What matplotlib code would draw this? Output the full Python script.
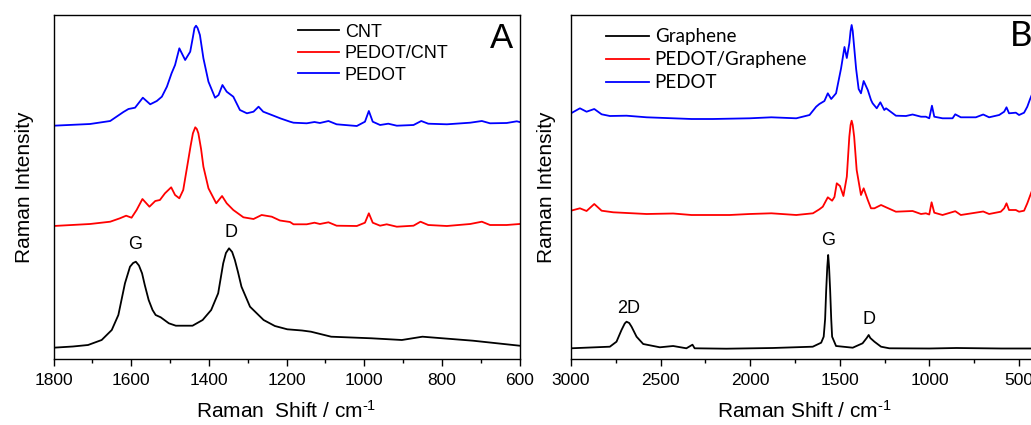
import matplotlib
matplotlib.use("Agg")
import matplotlib.pyplot as plt
from matplotlib.ticker import MultipleLocator

plt.rcParams["font.family"] = ["Liberation Sans", "DejaVu Sans"]
plt.rcParams["mathtext.fontset"] = "custom"
plt.rcParams["mathtext.rm"] = "Liberation Sans"
plt.rcParams["mathtext.it"] = "Liberation Sans:italic"

# ---- Panel A: CNT spectra (x = Raman shift, y = intensity) ----
cnt_x = [1800, 1750, 1711, 1676, 1650, 1633, 1616, 1603, 1595, 1588, 1580, 1572,
         1565, 1555, 1545, 1537, 1524, 1503, 1485, 1442, 1416, 1394, 1376, 1363,
         1356, 1348, 1340, 1333, 1325, 1316, 1294, 1259, 1230, 1198, 1160, 1137,
         1085, 981, 903, 850, 720, 600]
cnt_y = [11.3, 12.5, 14, 19, 29, 44, 75.7, 92.3, 96, 97.3, 93.5, 85.7,
         74, 59, 49, 44, 41.7, 35.7, 33.3, 33.3, 39, 49, 65.7, 95.7,
         106, 110.7, 107, 99, 87, 72.3, 52.3, 39, 33, 29.7, 28.5, 27.3,
         22.3, 20.7, 19, 22.3, 18.3, 13.3]

pcnt_x = [1800, 1706, 1654, 1629, 1613, 1599, 1586, 1571, 1553, 1538, 1526, 1513,
          1497, 1487, 1476, 1466, 1453, 1447, 1441, 1435, 1431, 1427, 1420, 1414,
          1401, 1381, 1366, 1354, 1337, 1311, 1285, 1264, 1238, 1217, 1191, 1182,
          1148, 1128, 1114, 1092, 1071, 1019, 998, 988, 978, 959, 942, 916,
          873, 855, 835, 787, 727, 697, 676, 633, 600]
pcnt_y = [133, 135, 137.3, 140.7, 143.3, 141.3, 149, 160, 152.3, 158, 159, 165.7,
          171.7, 164, 160.7, 169, 199, 213, 225.7, 231.7, 230, 225.7, 210, 192.3,
          170.7, 155.7, 163, 155.7, 149, 141.7, 140, 144, 142.3, 138.5, 137, 134.7,
          134.7, 136.3, 135, 136.7, 133.3, 133, 136.3, 145.7, 136.3, 133.3, 134.7, 132.3,
          133.3, 137.3, 134, 133, 135, 137.3, 134, 134, 135]

pedot_a_x = [1800, 1706, 1654, 1620, 1607, 1590, 1570, 1551, 1534, 1521, 1508, 1496,
             1487, 1476, 1461, 1448, 1441, 1437, 1433, 1429, 1423, 1414, 1401, 1384,
             1375, 1365, 1354, 1337, 1320, 1302, 1285, 1272, 1260, 1238, 1215, 1191,
             1182, 1148, 1128, 1114, 1092, 1071, 1019, 998, 988, 978, 959, 938,
             916, 873, 853, 835, 787, 727, 697, 676, 633, 607, 600]
pedot_a_y = [233.3, 235, 238, 247, 250, 251.3, 261.3, 254.7, 258, 262.3, 272.3, 285.7,
             294, 310.7, 299, 307.3, 322, 331, 333.3, 331, 324, 300.7, 277.3, 261.3,
             264, 274, 267.3, 262.3, 249, 245.7, 247.3, 252.3, 247.3, 244, 240.5, 237.3,
             236.3, 235.7, 237, 236, 238, 234.7, 233, 237.3, 248, 237.3, 234, 235.3,
             233.3, 234, 238, 235.3, 234.7, 236.3, 238, 235.7, 236, 237.7, 237]

# ---- Panel B: graphene spectra ----
gr_x = [3000, 2783, 2746, 2718, 2700, 2690, 2675, 2662, 2634, 2597, 2504, 2430,
        2356, 2322, 2310, 2133, 1874, 1651, 1604, 1590, 1582, 1576, 1570, 1565,
        1560, 1554, 1548, 1543, 1521, 1428, 1373, 1350, 1339, 1330, 1307, 1270,
        1224, 1000, 850, 600, 400]
gr_y = [10.7, 12.3, 17.3, 29, 35.5, 37.3, 36, 32.3, 22.3, 15, 11.7, 13,
        10.7, 14.3, 10.7, 10.3, 11, 12.3, 16.3, 22.3, 40, 69, 92, 104,
        92, 69, 40, 22.3, 13, 11.3, 15.7, 21, 24, 21, 17.3, 12.3,
        10.7, 10.5, 11, 10.5, 10.5]

pgr_x = [3000, 2950, 2913, 2870, 2829, 2764, 2578, 2430, 2328, 2115, 2003, 1882,
         1743, 1650, 1614, 1595, 1567, 1543, 1530, 1517, 1499, 1480, 1461, 1447,
         1440, 1434, 1428, 1420, 1406, 1382, 1367, 1344, 1326, 1307, 1270, 1242,
         1187, 1094, 1047, 1020, 1001, 988, 973, 927, 856, 825, 700, 667,
         602, 583, 570, 556, 518, 500, 472, 454, 439, 420, 400]
pgr_y = [148.3, 150.7, 148, 155, 148.3, 146.7, 145, 145.5, 144, 144, 145, 145.7,
         144, 145.7, 149.7, 152.3, 161.7, 158.3, 162, 175.7, 173, 163, 182.3, 222.3,
         234, 238.3, 234, 222.3, 189, 164, 170.7, 159, 150.7, 150.7, 154, 151.7,
         147.3, 148, 145, 145.7, 144.5, 156.7, 146.3, 144, 147.8, 144, 147.5, 145,
         147.3, 150.7, 155.7, 149, 149, 147.3, 148.3, 155.7, 163, 172, 178]

pedot_b_x = [3000, 2950, 2913, 2870, 2829, 2783, 2690, 2578, 2430, 2328, 2208, 2003,
             1882, 1743, 1669, 1632, 1614, 1586, 1567, 1548, 1521, 1493, 1474, 1461,
             1447, 1440, 1434, 1428, 1422, 1409, 1395, 1382, 1367, 1344, 1326, 1317,
             1294, 1274, 1252, 1242, 1187, 1131, 1094, 1047, 1020, 1001, 986, 973,
             927, 871, 856, 825, 741, 700, 667, 611, 583, 570, 556, 518,
             500, 472, 454, 439, 420, 400]
pedot_b_y = [245.7, 250.7, 247.3, 250, 244.7, 243, 243.3, 241.7, 240.7, 240, 240, 240.7,
             241.7, 240.7, 244, 252.3, 255, 258, 265.7, 260, 265.7, 290.7, 312, 301,
             315.7, 328, 334, 328, 316, 290, 270, 265.7, 278, 269, 259, 255.7,
             250.7, 256.7, 249, 250.7, 243.3, 243, 244.5, 242.3, 242.3, 240.7, 253.3, 242.3,
             240.7, 240.7, 244.7, 241.7, 241.7, 244.5, 241.7, 244, 247.3, 251.7, 245.7, 246.3,
             244, 246.3, 252.3, 259.7, 268, 275]

labels_a = ["CNT", "PEDOT/CNT", "PEDOT"]
labels_b = ["Graphene", "PEDOT/Graphene", "PEDOT"]
colors = ["black", "red", "blue"]


def style_axes(ax, xlim, major, minor, xlabel, ypad):
    ax.set_xlim(*xlim)
    ax.set_ylim(0, 344)
    ax.xaxis.set_major_locator(MultipleLocator(major))
    ax.xaxis.set_minor_locator(MultipleLocator(minor))
    ax.tick_params(axis="x", which="major", direction="out", length=5, width=1,
                   labelsize=12.5, pad=5, top=False)
    ax.tick_params(axis="x", which="minor", direction="out", length=3, width=1, top=False)
    ax.tick_params(axis="y", left=False, labelleft=False)
    for sp in ax.spines.values():
        sp.set_linewidth(1.0)
    ax.set_xlabel(xlabel, fontsize=15, labelpad=9)
    ax.set_ylabel("Raman Intensity", fontsize=15, labelpad=ypad)


fig = plt.figure(figsize=(10.31, 4.25), dpi=100)
ax_a = fig.add_axes([0.0519, 0.1553, 0.452, 0.8094])
ax_b = fig.add_axes([0.5538, 0.1553, 0.452, 0.8094])

# panel A
for xs, ys, c, lab in zip([cnt_x, pcnt_x, pedot_a_x], [cnt_y, pcnt_y, pedot_a_y], colors, labels_a):
    ax_a.plot(xs, ys, color=c, lw=1.3, label=lab)
style_axes(ax_a, (1800, 600), 200, 100, r"Raman  Shift / cm$^{\text{-}1}$", 14)
ax_a.text(1590, 114, "G", ha="center", va="center", fontsize=13)
ax_a.text(1342, 126, "D", ha="center", va="center", fontsize=13)
ax_a.text(0.986, 0.933, "A", transform=ax_a.transAxes, ha="right", va="center", fontsize=25)
ax_a.legend(loc="upper left", bbox_to_anchor=(0.524, 0.975), frameon=False, fontsize=13,
            handlelength=2.3, handletextpad=0.3, labelspacing=0.25, borderpad=0, borderaxespad=0)

# panel B
for xs, ys, c, lab in zip([gr_x, pgr_x, pedot_b_x], [gr_y, pgr_y, pedot_b_y], colors, labels_b):
    ax_b.plot(xs, ys, color=c, lw=1.3, label=lab)
style_axes(ax_b, (3000, 400), 500, 250, r"Raman Shift / cm$^{\text{-}1}$", 11)
ax_b.text(2681, 50.7, "2D", ha="center", va="center", fontsize=13)
ax_b.text(1563, 118.3, "G", ha="center", va="center", fontsize=13)
ax_b.text(1335, 39.7, "D", ha="center", va="center", fontsize=13)
ax_b.text(0.942, 0.939, "B", transform=ax_b.transAxes, ha="left", va="center", fontsize=25,
          family=["Lato", "DejaVu Sans"])
ax_b.legend(loc="upper left", bbox_to_anchor=(0.075, 0.962), frameon=False,
            prop={"family": ["Lato", "DejaVu Sans"], "size": 13.5},
            handlelength=2.3, handletextpad=0.3, labelspacing=0.33, borderpad=0, borderaxespad=0)

fig.savefig("out.png", dpi=100)
